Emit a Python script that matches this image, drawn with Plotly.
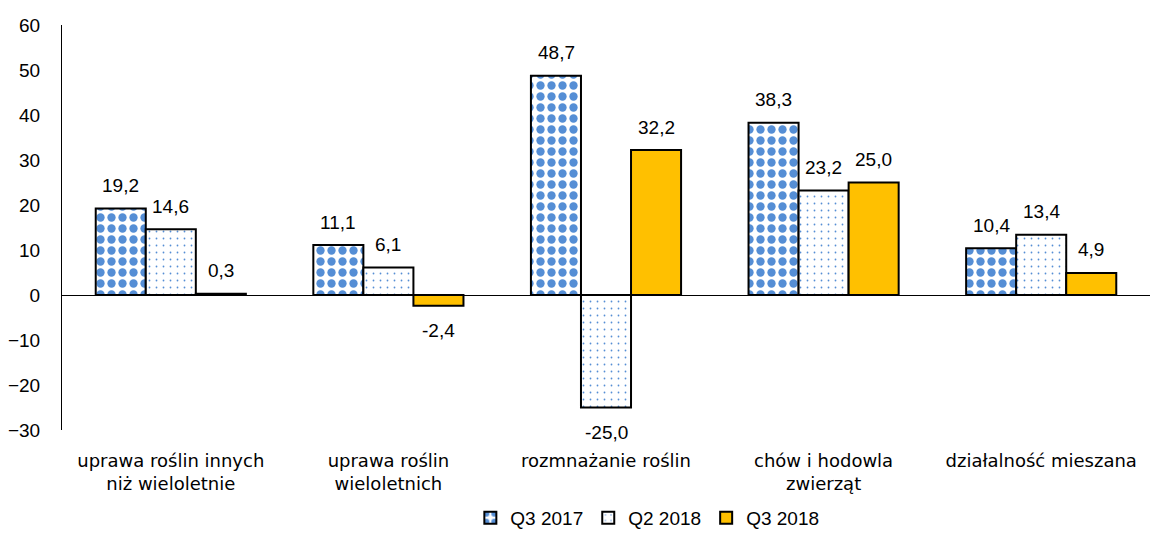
import plotly.graph_objects as go

categories = ["uprawa roślin innych<br>niż wieloletnie", "uprawa roślin<br>wieloletnich",
              "rozmnażanie roślin", "chów i hodowla<br>zwierząt", "działalność mieszana"]
series_names = ["Q3 2017", "Q2 2018", "Q3 2018"]
q3_2017 = [19.2, 11.1, 48.7, 38.3, 10.4]
q2_2018 = [14.6, 6.1, -25.0, 23.2, 13.4]
q3_2018 = [0.3, -2.4, 32.2, 25.0, 4.9]
y_ticks = [-30, -20, -10, 0, 10, 20, 30, 40, 50, 60]

BLUE = "#558ED5"
GOLD = "#FFC000"
NUMFONT = "Liberation Sans, Arial"
CATFONT = "DejaVu Sans, Verdana"

fig = go.Figure()
fig.add_trace(go.Bar(
    name=series_names[0], x=categories, y=q3_2017,
    marker=dict(color="white", line=dict(color="black", width=2),
                pattern=dict(shape=".", fgcolor=BLUE, bgcolor="white", fgopacity=1,
                             size=11, solidity=0.45, fillmode="overlay")),
))
fig.add_trace(go.Bar(
    name=series_names[1], x=categories, y=q2_2018,
    marker=dict(color="white", line=dict(color="black", width=2),
                pattern=dict(shape=".", fgcolor=BLUE, bgcolor="white", fgopacity=1,
                             size=7, solidity=0.05, fillmode="overlay")),
))
fig.add_trace(go.Bar(
    name=series_names[2], x=categories, y=q3_2018,
    marker=dict(color=GOLD, line=dict(color="black", width=2)),
))

bar_px = 50
for i, vals in enumerate([q3_2017, q2_2018, q3_2018]):
    for c, v in zip(categories, vals):
        fig.add_annotation(
            x=c, y=v, text=f"{v:.1f}".replace(".", ","), showarrow=False,
            xshift=(i - 1) * bar_px, yshift=23 if v >= 0 else -25,
            font=dict(family=NUMFONT, size=19, color="black"),
        )

fig.update_layout(
    width=1154, height=535,
    margin=dict(l=62, r=4, t=25, b=105, autoexpand=False),
    paper_bgcolor="white", plot_bgcolor="white",
    barmode="group", bargap=0.31, bargroupgap=0,
    showlegend=True,
    legend=dict(orientation="h", x=0.538, xanchor="center", y=-0.17, yanchor="top",
                font=dict(family=NUMFONT, size=19, color="black"),
                itemwidth=30, traceorder="normal"),
    font=dict(family=CATFONT, color="black"),
)
fig.update_xaxes(showline=False, showgrid=False, ticks="", zeroline=False, automargin=False,
                 tickfont=dict(family=CATFONT, size=18, color="black"),
                 ticklabelstandoff=18)
fig.update_yaxes(range=[-30, 60], tickvals=y_ticks, showgrid=False, automargin=False,
                 showline=True, linecolor="black", linewidth=1,
                 zeroline=True, zerolinecolor="black", zerolinewidth=1,
                 ticks="", ticklabelstandoff=17,
                 tickfont=dict(family=NUMFONT, size=19, color="black"))

fig.write_html("out.html", config={"displayModeBar": False},
               post_script="document.body.style.margin='0';document.body.style.overflow='hidden';")
